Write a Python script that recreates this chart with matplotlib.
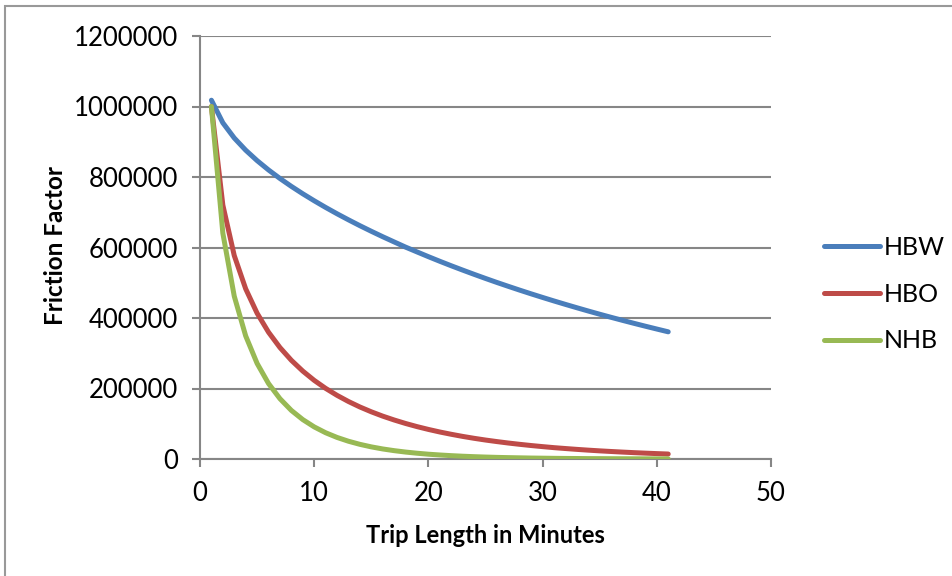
import matplotlib.pyplot as plt
from matplotlib.patches import Rectangle

plt.rcParams['font.family'] = ['Lato', 'DejaVu Sans']

minutes = list(range(1, 42))

hbw = [1017800, 953700, 910600, 876100, 846500, 820000, 795800, 773400, 752400, 732600,
       713700, 695700, 678500, 661900, 646000, 630600, 615800, 601100, 587500, 574000,
       560900, 548200, 535900, 523900, 512200, 500800, 489800, 479000, 468500, 458300,
       448300, 438600, 429100, 419800, 410700, 401900, 393300, 384900, 376700, 368700,
       360800]
hbo = [1000000, 720400, 577100, 482800, 413600, 359700, 316200, 280000, 249400, 223100,
       200400, 180600, 163100, 147600, 133900, 121600, 110700, 100800, 91900, 83900,
       76600, 70100, 64100, 58700, 53800, 49400, 45300, 41600, 38200, 35100,
       32200, 29700, 27300, 25100, 23100, 21300, 19600, 18000, 16600, 15300,
       14100]
nhb = [1000000, 640600, 461800, 349200, 271200, 214100, 171100, 137800, 111800, 91100,
       74500, 61200, 50400, 41600, 34400, 28500, 23700, 19700, 16400, 13600,
       11400, 9500, 7900, 6600, 5500, 4600, 3900, 3300, 2700, 2300,
       1900, 1600, 1400, 1100, 1000, 800, 700, 600, 500, 400,
       300]

series = [("HBW", hbw, "#4A7EBB"), ("HBO", hbo, "#BE4B48"), ("NHB", nhb, "#98B954")]
x_ticks = [0, 10, 20, 30, 40, 50]
y_ticks = [0, 200000, 400000, 600000, 800000, 1000000, 1200000]

fig = plt.figure(figsize=(9.53, 5.76), dpi=100)
ax = fig.add_axes([200/953, 1-459/576, 571/953, 423/576])

for name, vals, col in series:
    ax.plot(minutes, vals, color=col, lw=3.6, label=name, solid_capstyle='round', zorder=3)

ax.set_xlim(0, 50)
ax.set_ylim(0, 1200000)
ax.set_xticks(x_ticks)
ax.set_yticks(y_ticks)
ax.set_yticklabels([str(v) for v in y_ticks])
ax.grid(axis='y', color='#868686', lw=1.5)
ax.set_axisbelow(True)
for s in ['top', 'right']:
    ax.spines[s].set_visible(False)
for s in ['left', 'bottom']:
    ax.spines[s].set_color('#868686')
    ax.spines[s].set_linewidth(1.5)
ax.tick_params(axis='both', colors='#868686', width=1.5, length=6, labelcolor='black', labelsize=18.5)
ax.tick_params(axis='x', pad=10)
ax.tick_params(axis='y', pad=10)

ax.set_xlabel('Trip Length in Minutes', fontsize=17, fontweight='bold')
ax.set_ylabel('Friction Factor', fontsize=17.5, fontweight='bold',
              rotation_mode='default', ha='center', va='center')
ax.xaxis.set_label_coords(0.5, -0.18, transform=ax.transAxes)
ax.yaxis.set_label_coords(56/953, 1-246/576, transform=fig.transFigure)
ax.xaxis.label.set_va('center')

leg = fig.legend(loc='center left', bbox_to_anchor=(824/953, 1-294/576), frameon=False,
                 fontsize=18, handlelength=2.25, handletextpad=0.15, labelspacing=0.95,
                 borderpad=0, borderaxespad=0)

fig.patches.append(Rectangle((5/953, -0.1), 1.2, 1-6/576+0.1, transform=fig.transFigure,
                             fill=False, edgecolor='#999999', lw=1.5))

fig.savefig('out.png', dpi=100)
